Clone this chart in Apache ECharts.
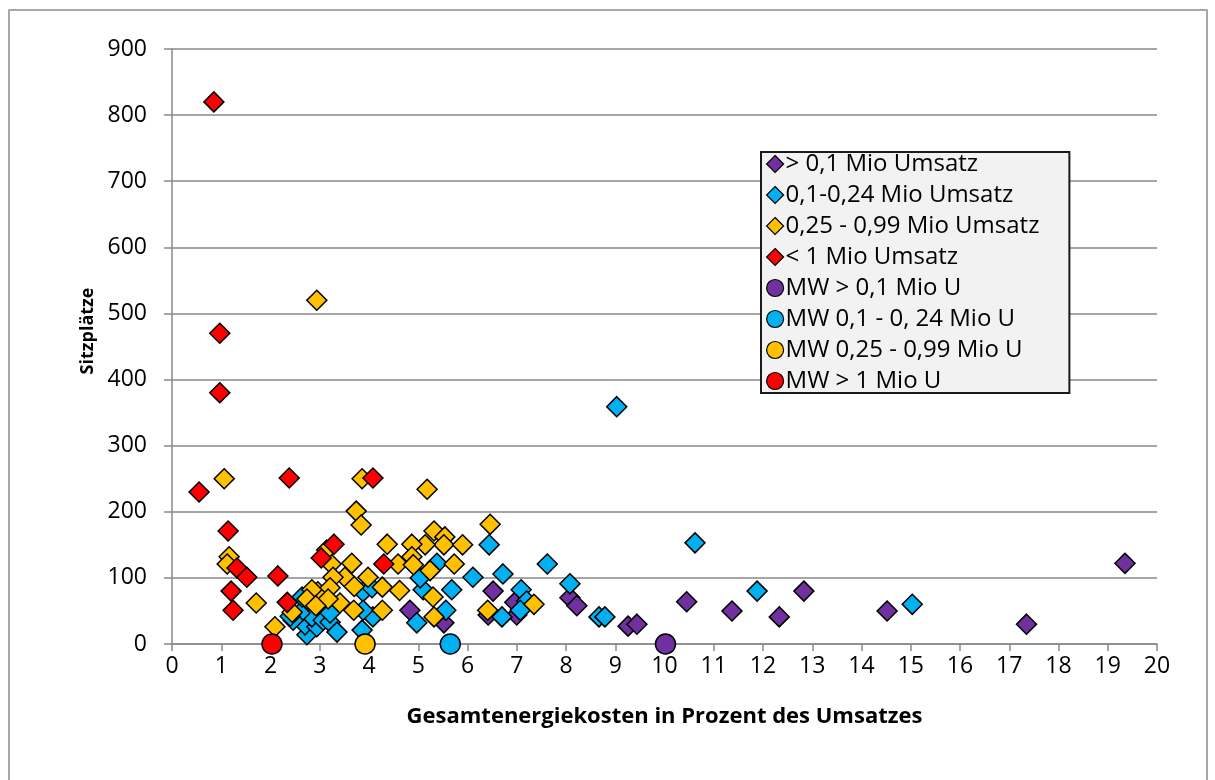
<!DOCTYPE html>
<html>
<head>
<meta charset="utf-8">
<script src="https://cdn.jsdelivr.net/npm/echarts@6/dist/echarts.min.js"></script>
<style>
  html, body { margin: 0; padding: 0; background: #ffffff; }
  #chart { width: 1215px; height: 780px; }
</style>
</head>
<body>
<div id="chart"></div>
<script>
// Seats vs. total energy cost (% of turnover), grouped by turnover class
const seriesNames = [
  '> 0,1 Mio Umsatz',
  '0,1-0,24 Mio Umsatz',
  '0,25 - 0,99 Mio Umsatz',
  '< 1 Mio Umsatz',
  'MW > 0,1 Mio U',
  'MW 0,1 - 0, 24 Mio U',
  'MW 0,25 - 0,99 Mio U',
  'MW > 1 Mio U'
];

const seriesColors = ['#7030a0', '#00b0f0', '#ffc000', '#ff0000'];

const xTitle = 'Gesamtenergiekosten in Prozent des Umsatzes';
const yTitle = 'Sitzplätze';

// [energy cost %, seats]
const purplePoints = [
  [4.83, 51], [5.52, 32], [6.52, 80], [6.96, 63], [7.0, 44], [6.42, 44],
  [8.08, 70], [8.22, 58], [9.26, 27], [9.44, 30], [10.45, 64], [11.37, 50],
  [12.33, 41], [12.83, 80], [14.52, 50], [17.35, 30], [19.35, 122]
];

const bluePoints = [
  [2.74, 14], [2.7, 29], [2.94, 26], [2.84, 41], [2.6, 47], [3.07, 36],
  [3.21, 33], [3.35, 18], [3.21, 47], [2.46, 36], [2.64, 71], [3.88, 79],
  [4.08, 41], [3.86, 21], [3.88, 51], [4.06, 85], [4.97, 32], [5.1, 82],
  [5.04, 100], [5.38, 122], [5.68, 82], [5.56, 51], [6.11, 101], [6.44, 150],
  [6.72, 106], [7.09, 82], [6.7, 41], [7.2, 65], [7.07, 51], [7.62, 121],
  [8.08, 91], [8.67, 41], [8.79, 41], [9.03, 359], [10.62, 153], [11.88, 80],
  [15.03, 60], [2.4, 42]
];

const orangePoints = [
  [1.06, 250], [2.94, 520], [3.86, 250], [3.74, 201], [3.84, 180], [1.16, 132],
  [1.12, 121], [1.71, 62], [2.09, 26], [4.37, 151], [4.59, 121], [3.23, 121],
  [3.65, 122], [3.51, 101], [3.27, 101], [3.98, 101], [3.70, 87], [4.27, 86],
  [4.62, 81], [3.69, 51], [4.27, 51], [3.41, 62], [2.96, 79], [2.84, 82],
  [3.21, 85], [3.17, 68], [2.44, 48], [2.74, 68], [2.92, 58], [3.14, 142],
  [5.18, 234], [5.32, 171], [5.54, 162], [5.52, 150], [5.90, 150], [5.14, 150],
  [4.87, 151], [6.46, 181], [4.87, 132], [4.90, 120], [5.24, 111], [5.73, 121],
  [5.30, 71], [5.32, 41], [6.41, 51], [7.35, 60]
];

const redPoints = [
  [0.85, 820], [0.97, 470], [0.97, 380], [0.55, 230], [1.14, 171], [1.32, 115],
  [1.52, 101], [1.2, 80], [1.24, 51], [2.15, 103], [2.34, 63], [2.38, 251],
  [4.08, 251], [3.29, 151], [3.03, 130], [4.3, 121]
];

// Group means, drawn on the x axis
const meanPurple = [[10.02, 0]];
const meanBlue = [[5.65, 0]];
const meanOrange = [[3.92, 0]];
const meanRed = [[2.03, 0]];

const xMin = 0, xMax = 20, xStep = 1;
const yMin = 0, yMax = 900, yStep = 100;

const FONT = '"Open Sans"';
const gridGray = '#898989';

function diamondSeries(name, data, color) {
  return {
    name: name,
    type: 'scatter',
    data: data,
    symbol: 'diamond',
    symbolSize: 20,
    itemStyle: { color: color, borderColor: '#000', borderWidth: 1.5, opacity: 1 },
    emphasis: { disabled: true }
  };
}

function meanSeries(name, data, color) {
  return {
    name: name,
    type: 'scatter',
    data: data,
    symbol: 'circle',
    symbolSize: 20,
    z: 5,
    itemStyle: { color: color, borderColor: '#000', borderWidth: 1.5, opacity: 1 },
    emphasis: { disabled: true }
  };
}

const chart = echarts.init(document.getElementById('chart'), null, { renderer: 'canvas' });

chart.setOption({
  animation: false,
  backgroundColor: '#ffffff',
  textStyle: { fontFamily: FONT },
  graphic: [
    {
      type: 'rect',
      shape: { x: 9, y: 10, width: 1198, height: 820 },
      style: { fill: 'none', stroke: '#8c8c8c', lineWidth: 1.5 },
      silent: true,
      z: -1
    },
    {
      type: 'text',
      x: 88,
      y: 331,
      rotation: Math.PI / 2,
      silent: true,
      style: {
        text: yTitle,
        fontFamily: FONT,
        fontSize: 18,
        fontWeight: 'bold',
        fill: '#000',
        align: 'center',
        verticalAlign: 'middle'
      }
    }
  ],
  grid: { left: 172, right: 58, top: 49, bottom: 136, containLabel: false },
  legend: {
    orient: 'vertical',
    left: 761,
    top: 152,
    backgroundColor: '#f2f2f2',
    borderColor: '#1a1a1a',
    borderWidth: 2,
    borderRadius: 0,
    padding: [0, 30, 0, 5],
    itemGap: 7,
    itemWidth: 17,
    itemHeight: 17,
    textStyle: { fontFamily: FONT, fontSize: 24, color: '#000', lineHeight: 24, padding: [0, 0, 0, -3] },
    data: seriesNames.map((n, i) => ({
      name: n,
      icon: i < 4 ? 'diamond' : 'circle',
      itemStyle: { borderColor: '#000', borderWidth: 1.2 }
    }))
  },
  xAxis: {
    type: 'value',
    min: xMin, max: xMax, interval: xStep,
    name: xTitle,
    nameLocation: 'middle',
    nameGap: 62,
    nameTextStyle: { fontFamily: FONT, fontSize: 22, fontWeight: 'bold', color: '#000' },
    axisLine: { show: true, onZero: false, lineStyle: { color: gridGray, width: 1.5 } },
    axisTick: { show: true, length: 7, lineStyle: { color: gridGray, width: 1.5 } },
    axisLabel: { fontFamily: FONT, fontSize: 23, color: '#000', margin: 11 },
    splitLine: { show: false }
  },
  yAxis: {
    type: 'value',
    min: yMin, max: yMax, interval: yStep,
    axisLine: { show: true, lineStyle: { color: gridGray, width: 1.5 } },
    axisTick: { show: true, length: 8, lineStyle: { color: gridGray, width: 1.5 } },
    axisLabel: { fontFamily: FONT, fontSize: 23, color: '#000', margin: 25 },
    splitLine: { show: true, lineStyle: { color: gridGray, width: 1.5 } }
  },
  series: [
    diamondSeries(seriesNames[0], purplePoints, seriesColors[0]),
    diamondSeries(seriesNames[1], bluePoints, seriesColors[1]),
    diamondSeries(seriesNames[2], orangePoints, seriesColors[2]),
    diamondSeries(seriesNames[3], redPoints, seriesColors[3]),
    meanSeries(seriesNames[4], meanPurple, seriesColors[0]),
    meanSeries(seriesNames[5], meanBlue, seriesColors[1]),
    meanSeries(seriesNames[6], meanOrange, seriesColors[2]),
    meanSeries(seriesNames[7], meanRed, seriesColors[3])
  ]
});
</script>
</body>
</html>
